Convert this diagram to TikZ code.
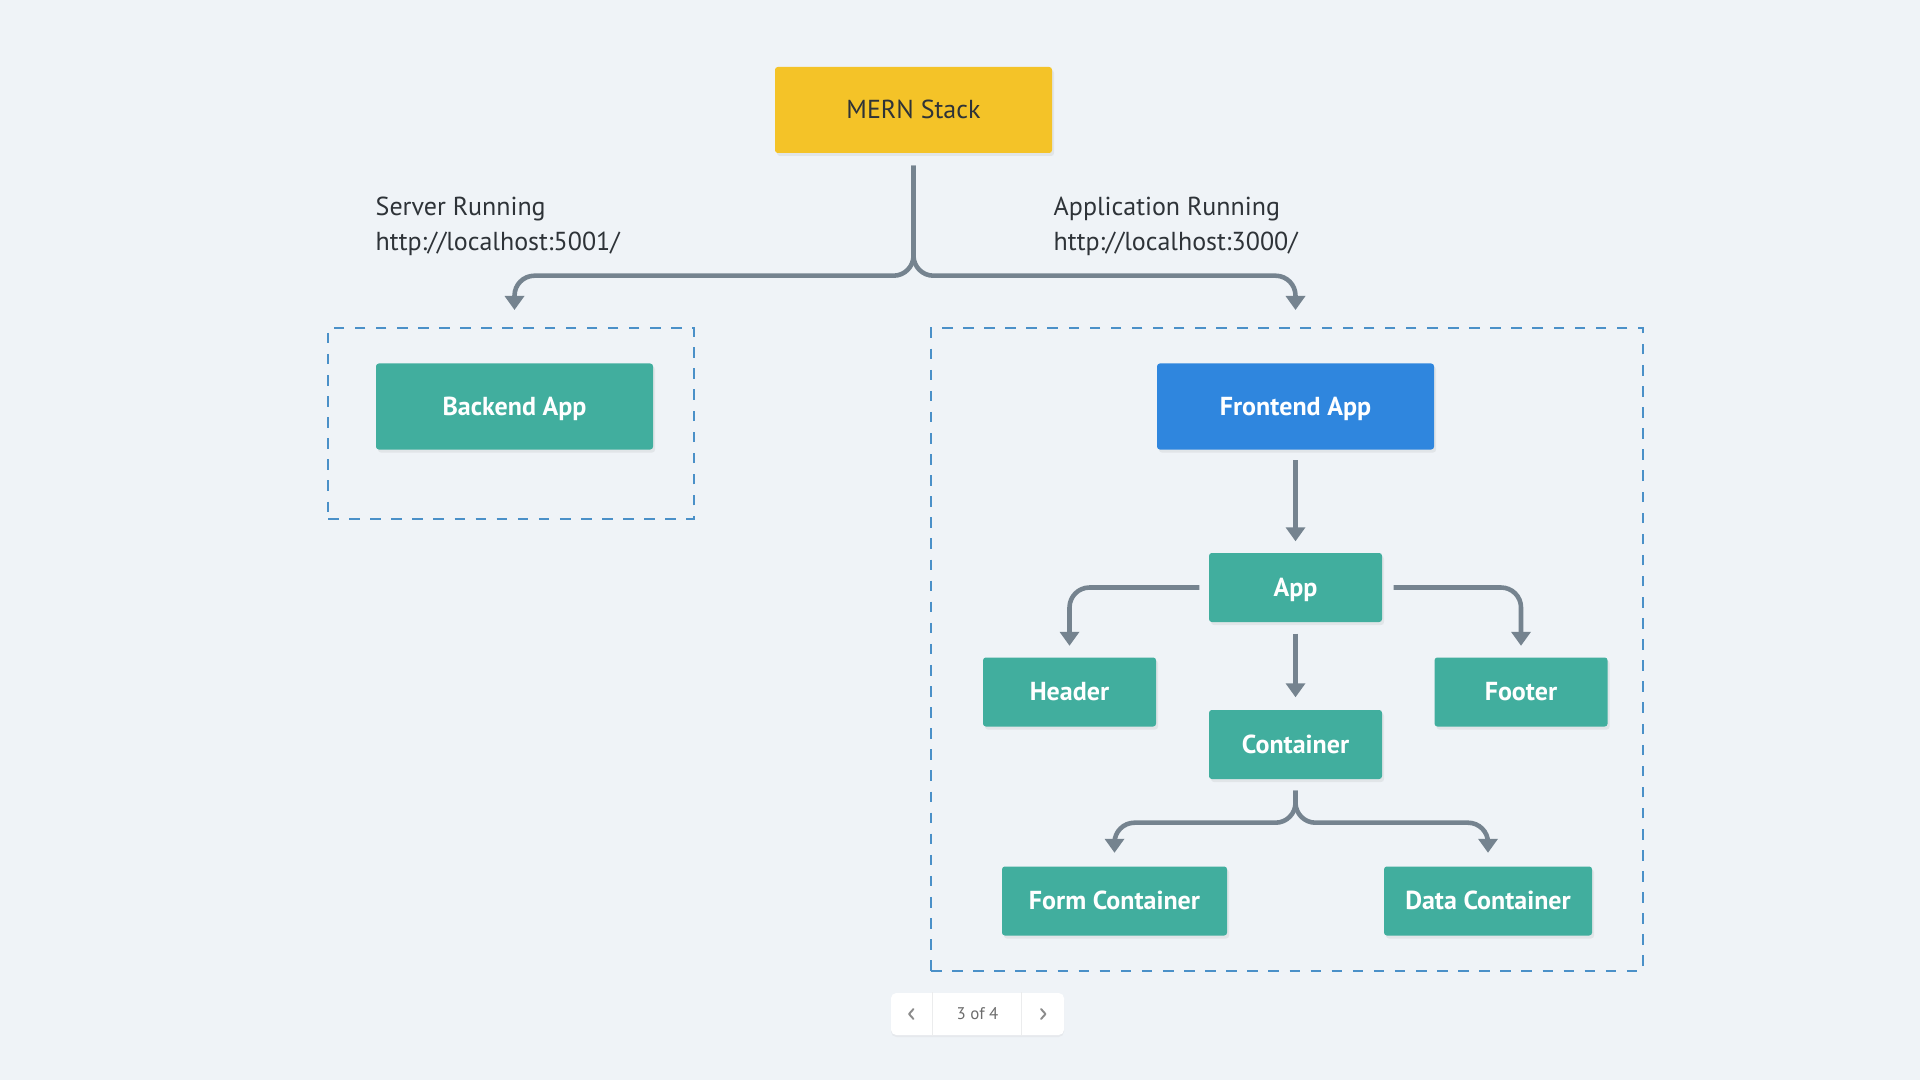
\documentclass[tikz,border=0pt]{standalone}
\usepackage{fontspec}
\setmainfont{PT Sans}
\usetikzlibrary{positioning,shadows,arrows.meta}

\definecolor{pagebg}{HTML}{EFF3F7}
\definecolor{appteal}{HTML}{41AE9E}
\definecolor{appblue}{HTML}{2F86DE}
\definecolor{appyellow}{HTML}{F4C328}
\definecolor{linkgray}{HTML}{75838F}
\definecolor{frameblue}{HTML}{4A90C8}
\definecolor{textdark}{HTML}{2E3338}

\begin{document}
\begin{tikzpicture}[
    font=\fontsize{7.4}{10}\selectfont,
    box/.style={minimum width=2.77cm, minimum height=0.86cm, inner sep=0pt,
        rounded corners=0.8pt, text height=0.69em, text depth=0.2em,
        text=white, font=\fontsize{7.4}{10}\selectfont\bfseries,
        drop shadow={opacity=0.12, shadow xshift=0.02cm, shadow yshift=-0.03cm}},
    smallbox/.style={box, fill=appteal, minimum width=1.73cm, minimum height=0.69cm},
    frame/.style={draw=frameblue, line width=0.6pt, dash pattern=on 3pt off 3pt,
        inner sep=0pt},
    link/.style={draw=linkgray, line width=1.3pt, rounded corners=0.2cm,
        -{Triangle[length=0.14cm, width=0.19cm]}},
    note/.style={text=textdark, align=left, inner sep=0pt}
]
    \useasboundingbox (0,0) rectangle (19.2,-10.8);
    \fill[pagebg] (0,0) rectangle (19.2,-10.8);

    % top of the stack
    \node[box, fill=appyellow, text=textdark, font=\fontsize{7.4}{10}\selectfont] (mern) at (9.135,-1.10) {MERN Stack};

    \node[note, anchor=north west] (server) at (3.75,-1.96) {Server Running\\http://localhost:5001/};
    \node[note, anchor=north west] (client) at (10.53,-1.96) {Application Running\\http://localhost:3000/};

    % dashed groups
    \node[frame, minimum width=3.66cm, minimum height=1.91cm] (backfr) at (5.11,-4.235) {};
    \node[frame, minimum width=7.12cm, minimum height=6.43cm] (frontfr) at (12.87,-6.495) {};

    \coordinate (backtip) at (5.145,-3.10);
    \coordinate (fronttip) at (12.955,-3.10);

    % apps
    \node[box, fill=appteal] (backend) at (5.145,-4.065) {Backend App};
    \node[box, fill=appblue] (frontend) at (12.955,-4.065) {Frontend App};

    % components
    \node[smallbox] (app) at (12.955,-5.875) {App};
    \node[smallbox] (header) at (10.695,-6.92) {Header};
    \node[smallbox] (footer) at (15.21,-6.92) {Footer};
    \node[smallbox] (container) at (12.955,-7.445) {Container};
    \node[smallbox, minimum width=2.25cm] (form) at (11.145,-9.01) {Form Container};
    \node[smallbox, minimum width=2.08cm] (data) at (14.88,-9.01) {Data Container};

    % links
    \draw[link] ([yshift=-0.12cm]mern.south) -- ++(0,-1.10) -| (backtip);
    \draw[link] ([yshift=-0.12cm]mern.south) -- ++(0,-1.10) -| (fronttip);
    \draw[link] ([yshift=-0.10cm]frontend.south) -- ([yshift=0.11cm]app.north);
    \draw[link] ([xshift=-0.09cm]app.west) -| ([yshift=0.11cm]header.north);
    \draw[link] ([xshift=0.11cm]app.east) -| ([yshift=0.11cm]footer.north);
    \draw[link] ([yshift=-0.11cm]app.south) -- ([yshift=0.12cm]container.north);
    \draw[link] ([yshift=-0.11cm]container.south) -- ++(0,-0.32) -| ([yshift=0.13cm]form.north);
    \draw[link] ([yshift=-0.11cm]container.south) -- ++(0,-0.32) -| ([yshift=0.13cm]data.north);

    % pager
    \node[fill=white, rounded corners=1.5pt, minimum width=1.73cm, minimum height=0.42cm,
        inner sep=0pt, drop shadow={opacity=0.08, shadow xshift=0cm, shadow yshift=-0.02cm}] (pager) at (9.775,-10.14) {};
    \draw[pagebg!70!gray!40, line width=0.4pt] ([xshift=0.42cm]pager.north west) -- ([xshift=0.42cm]pager.south west);
    \draw[pagebg!70!gray!40, line width=0.4pt] ([xshift=-0.43cm]pager.north east) -- ([xshift=-0.43cm]pager.south east);
    \node[text=gray!85!black, font=\fontsize{4.8}{6}\selectfont] (count) at (pager) {3 of 4};
    \draw[gray!90, line width=0.55pt, line cap=round, line join=round]
        (9.135,-10.09) -- (9.09,-10.14) -- (9.135,-10.19);
    \draw[gray!90, line width=0.55pt, line cap=round, line join=round]
        (10.41,-10.09) -- (10.455,-10.14) -- (10.41,-10.19);
\end{tikzpicture}
\end{document}
